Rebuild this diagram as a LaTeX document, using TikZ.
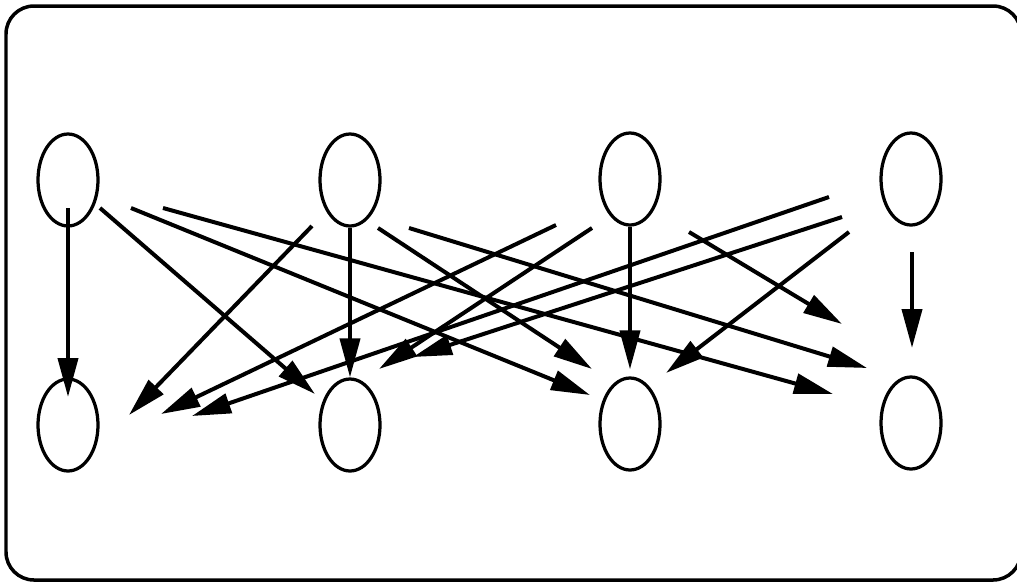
\documentclass[tikz,border=0pt]{standalone}
\usetikzlibrary{arrows.meta,shapes.geometric}

\begin{document}
\begin{tikzpicture}[
    x=0.02cm, y=-0.02cm,
    state/.style={ellipse, draw, line width=0.065cm, minimum width=1.2cm, minimum height=1.84cm, inner sep=0pt},
    arr/.style={-{Triangle[length=0.78cm, width=0.4cm]}, line width=0.08cm}
    ]

    \useasboundingbox (0,0) rectangle (1017,582);
    \draw[line width=0.07cm, rounded corners=0.56cm] (6,6) rectangle (1021,580);

    \node[state] (t1) at (68,180) {};
    \node[state] (t2) at (350,180) {};
    \node[state] (t3) at (630,179) {};
    \node[state] (t4) at (911,179) {};
    \node[state] (b1) at (68,425) {};
    \node[state] (b2) at (350,425) {};
    \node[state] (b3) at (630,424) {};
    \node[state] (b4) at (911,423) {};

    % free ends of the arrows
    \coordinate (s1) at (68,208);   \coordinate (e1) at (68,397);
    \coordinate (s2) at (100,208);  \coordinate (e2) at (315,394);
    \coordinate (s3) at (131,208);  \coordinate (e3) at (590,395);
    \coordinate (s4) at (163,208);  \coordinate (e4) at (833,394);
    \coordinate (s5) at (312,226);  \coordinate (e5) at (129,415);
    \coordinate (s7) at (378,228);  \coordinate (e7) at (592,369);
    \coordinate (s8) at (409,228);  \coordinate (e8) at (867,368);
    \coordinate (s9) at (556,225);  \coordinate (e9) at (161,414);
    \coordinate (s10) at (592,228); \coordinate (e10) at (379,369);
    \coordinate (s12) at (689,232); \coordinate (e12) at (842,324);
    \coordinate (s13) at (829,197); \coordinate (e13) at (192,416);
    \coordinate (s14) at (842,217); \coordinate (e14) at (413,357);
    \coordinate (s15) at (849,232); \coordinate (e15) at (666,373);
    \coordinate (s16) at (912,252); \coordinate (e16) at (912,348);

    \draw[arr] (s1) -- (e1);
    \draw[arr] (s2) -- (e2);
    \draw[arr] (s3) -- (e3);
    \draw[arr] (s4) -- (e4);
    \draw[arr] (s5) -- (e5);
    \draw[arr] (t2) -- (b2);
    \draw[arr] (s7) -- (e7);
    \draw[arr] (s8) -- (e8);
    \draw[arr] (s9) -- (e9);
    \draw[arr] (s10) -- (e10);
    \draw[arr, shorten >=0.14cm] (t3) -- (b3);
    \draw[arr] (s12) -- (e12);
    \draw[arr] (s13) -- (e13);
    \draw[arr] (s14) -- (e14);
    \draw[arr] (s15) -- (e15);
    \draw[arr] (s16) -- (e16);

\end{tikzpicture}
\end{document}
